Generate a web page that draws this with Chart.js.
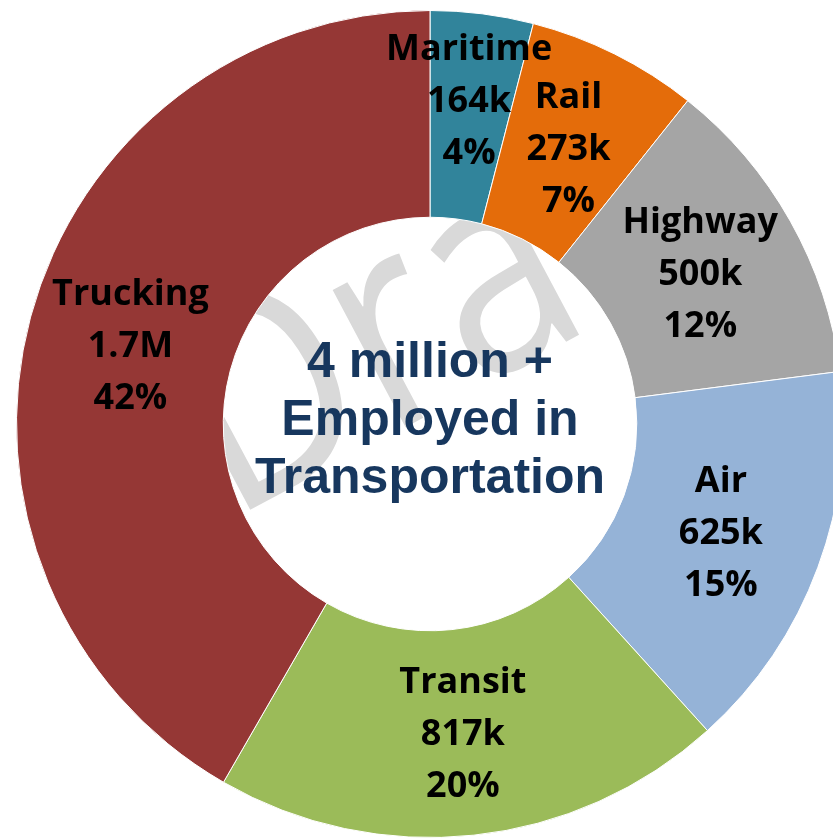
<!DOCTYPE html>
<html>
<head>
<meta charset="utf-8">
<script src="https://cdn.jsdelivr.net/npm/chart.js@4.4.1/dist/chart.umd.min.js"></script>
<style>
    html, body { margin: 0; padding: 0; background: #fff; overflow: hidden; width: 833px; height: 839px; }
    #wrap { position: absolute; left: 16px; top: 10px; width: 828px; height: 828px; }
</style>
</head>
<body>
<div id="wrap"><canvas id="donut"></canvas></div>
<script>
const categories = ['Maritime', 'Rail', 'Highway', 'Air', 'Transit', 'Trucking']
const employedK = [164, 273, 500, 625, 817, 1700]
const sliceColors = ['#31849B', '#E46C0A', '#A5A5A5', '#95B3D7', '#9BBB59', '#953735']
const centerLines = ['4 million +', 'Employed in', 'Transportation']
const watermark = 'Draft'

const total = employedK.reduce((a, b) => a + b, 0)

function fmtCount(v) {
    return v >= 1000 ? (v / 1000).toFixed(1) + 'M' : v + 'k'
}

const labelsPlugin = {
    id: 'labelsPlugin',
    beforeDatasetsDraw(chart) {
        // watermark sits behind the ring
        const ctx = chart.ctx
        ctx.save()
        ctx.translate(229 - 16, 521 - 10)
        ctx.rotate(-28 * Math.PI / 180)
        ctx.scale(0.85, 1)
        ctx.fillStyle = '#D9D9D9'
        ctx.font = '290px "Open Sans"'
        ctx.textAlign = 'left'
        ctx.textBaseline = 'alphabetic'
        ctx.fillText(watermark, 0, 0)
        ctx.restore()
    },
    afterDatasetsDraw(chart) {
        const ctx = chart.ctx
        const meta = chart.getDatasetMeta(0)
        ctx.save()
        ctx.fillStyle = '#000'
        ctx.font = 'bold 36px "Open Sans"'
        ctx.textAlign = 'center'
        ctx.textBaseline = 'alphabetic'
        meta.data.forEach((arc, i) => {
            const p = arc.tooltipPosition()
            const v = employedK[i]
            const lines = [categories[i], fmtCount(v), Math.round(v / total * 100) + '%']
            // the thin top slice label sits a bit higher
            const dy = i === 0 ? -17 : 0
            lines.forEach((t, j) => {
                ctx.fillText(t, p.x, p.y + dy + 13 + (j - 1) * 52)
            })
        })

        const c = meta.data[0]
        ctx.fillStyle = '#17375E'
        ctx.font = 'bold 50px "Liberation Sans"'
        centerLines.forEach((t, j) => {
            ctx.fillText(t, c.x, c.y - 47 + j * 58)
        })
        ctx.restore()
    }
}

new Chart(document.getElementById('donut'), {
    type: 'doughnut',
    data: {
        labels: categories,
        datasets: [{
            data: employedK,
            backgroundColor: sliceColors,
            borderColor: '#ffffff',
            borderWidth: 1,
        }],
    },
    options: {
        responsive: true,
        maintainAspectRatio: false,
        animation: false,
        cutout: '50%',
        layout: { padding: 0 },
        plugins: {
            legend: { display: false },
            tooltip: { enabled: false },
        },
    },
    plugins: [labelsPlugin],
})
</script>
</body>
</html>
